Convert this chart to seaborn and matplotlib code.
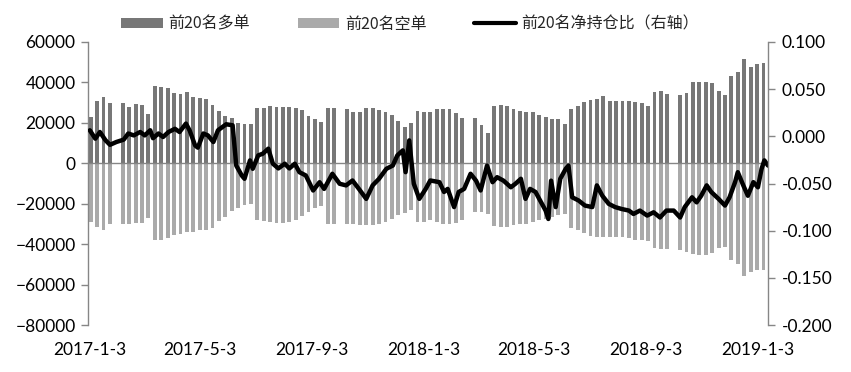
import numpy as np
import pandas as pd
import matplotlib
matplotlib.use("Agg")
import matplotlib.pyplot as plt
from matplotlib.patches import Patch
from matplotlib.lines import Line2D
from matplotlib.ticker import FormatStrFormatter
import seaborn as sns

sns.set_style("white")
plt.rcParams["font.family"] = ["Lato", "Noto Sans CJK SC", "DejaVu Sans"]

# ---------------- data ----------------
base_date = "2017-01-03"
# weekly bars: Mondays of each trading week (None = holiday week)
week_start = pd.date_range("2017-01-02", "2019-01-07", freq="W-MON")

long_top20 = [
    23000, 31000, 33000, 30000, None, 30000, 28000, 29500, 29000, 24500,
    38000, 37500, 37000, 35000, 34500, 35500, 33000, 32500, 32000, 29000,
    26000, 23500, 22500, 20000, 19300, 19300, 27500, 27500, 28500, 28000,
    28000, 28000, 27500, 26500, 23500, 22000, 20500, 27500, 27500, None,
    27000, 25500, 25500, 27500, 27500, 26500, 25500, 24000, 21000, 18000,
    20000, 26000, 25500, 25500, 27000, 27000, 27000, 25000, 22500, None,
    22500, 19000, 15000, 28500, 29000, 28500, 27000, 26000, 25500, 25500,
    24000, 23000, 22000, 22000, 19500, 27000, 28500, 30500, 31500, 32000,
    33500, 31000, 31000, 31000, 31000, 30500, 30000, 28500, 35500, 36000,
    34500, None, 34000, 35000, 40000, 40000, 40000, 39500, 36000, 34000,
    43000, 45000, 51500, 47500, 49000, 49500,
]

short_top20 = [
    -29000, -31500, -32800, -30000, None, -30000, -30000, -29600, -29500, -27000,
    -38000, -37800, -37000, -35600, -35000, -34000, -34000, -33000, -32800, -32000,
    -28500, -26500, -23500, -22000, -20500, -20000, -28000, -28500, -29000, -29400,
    -29400, -29000, -28000, -26000, -24000, -22000, -21000, -30000, -30000, None,
    -30000, -30000, -30500, -30700, -30700, -30000, -29000, -27500, -25500, -24500,
    -23000, -29000, -29000, -28200, -29000, -29900, -29900, -29500, -28000, None,
    -24100, -24000, -25000, -31000, -31500, -31500, -30500, -29900, -29900, -29000,
    -28200, -27500, -26500, -25700, -25000, -32000, -32800, -34500, -36000, -36500,
    -36500, -36500, -36500, -36500, -37000, -38000, -38100, -38500, -42000, -42200,
    -42200, None, -43000, -43900, -45000, -45500, -45500, -44500, -42000, -41400,
    -48000, -50000, -56000, -54000, -53000, -53000,
]

# net position ratio (right axis): days after 2017-01-03 and value
ratio_day = [
    0, 6, 11, 17, 22, 29, 37, 42, 48, 55,
    60, 66, 69, 75, 80, 86, 93, 98, 105, 109,
    115, 118, 124, 129, 135, 140, 149, 156, 160, 166,
    169, 175, 178, 184, 189, 195, 200, 206, 213, 218,
    224, 229, 236, 244, 251, 256, 265, 273, 280, 287,
    294, 302, 309, 316, 324, 331, 336, 342, 345, 349,
    354, 360, 367, 372, 382, 387, 391, 398, 403, 409,
    416, 422, 427, 434, 440, 445, 452, 460, 465, 471,
    476, 481, 487, 492, 498, 501, 504, 509, 514, 520,
    523, 527, 534, 541, 549, 554, 560, 567, 574, 581,
    589, 594, 601, 609, 616, 623, 630, 638, 645, 650,
    658, 663, 668, 674, 679, 687, 694, 699, 705, 708,
    714, 719, 725, 730, 734, 737, 741,
]
net_ratio = [
    0.0064, -0.0025, 0.0046, -0.004, -0.009, -0.006, -0.0035, 0.003, 0.001, 0.0046,
    0.001, 0.0064, -0.002, 0.003, -0.0007, 0.0046, 0.008, 0.0046, 0.0135, 0.0064,
    -0.0096, -0.012, 0.003, 0.001, -0.006, 0.0064, 0.0128, 0.0117, -0.031, -0.0415,
    -0.045, -0.0255, -0.0344, -0.0202, -0.0184, -0.0131, -0.029, -0.034, -0.029, -0.034,
    -0.029, -0.038, -0.0415, -0.0574, -0.0486, -0.0557, -0.0397, -0.0503, -0.052, -0.0468,
    -0.0557, -0.0663, -0.052, -0.045, -0.0344, -0.031, -0.0202, -0.0149, -0.038, -0.0043,
    -0.0503, -0.0663, -0.0557, -0.0468, -0.0486, -0.059, -0.0557, -0.075, -0.059, -0.0557,
    -0.0397, -0.047, -0.0574, -0.031, -0.0486, -0.0433, -0.047, -0.054, -0.0503, -0.045,
    -0.0663, -0.0557, -0.059, -0.068, -0.0787, -0.0876, -0.047, -0.075, -0.045, -0.0344,
    -0.031, -0.0646, -0.068, -0.0734, -0.075, -0.052, -0.063, -0.0716, -0.075, -0.077,
    -0.0787, -0.0823, -0.0787, -0.084, -0.0805, -0.086, -0.0787, -0.0787, -0.086, -0.075,
    -0.0646, -0.07, -0.063, -0.052, -0.059, -0.0663, -0.0734, -0.0646, -0.0486, -0.038,
    -0.052, -0.063, -0.0486, -0.054, -0.0344, -0.0255, -0.031,
]

x_tick_labels = ["2017-1-3", "2017-5-3", "2017-9-3", "2018-1-3",
                 "2018-5-3", "2018-9-3", "2019-1-3"]
left_ticks = [60000, 40000, 20000, 0, -20000, -40000, -60000, -80000]
right_ticks = [0.100, 0.050, 0.000, -0.050, -0.100, -0.150, -0.200]

label_long = "前20名多单"
label_short = "前20名空单"
label_ratio = "前20名净持仓比（右轴）"

c_long = "#777777"
c_short = "#aaaaaa"
axis_grey = "#868686"

# ---------------- build frame ----------------
base = pd.Timestamp(base_date)
bar_day = [(d - base).days + 2 for d in week_start]  # mid-week (Wednesday)
df = pd.concat([
    pd.DataFrame({"day": bar_day, "value": long_top20, "series": label_long}),
    pd.DataFrame({"day": bar_day, "value": short_top20, "series": label_short}),
]).dropna()
df["value"] = df["value"].astype(float)
df["day"] = df["day"].astype(float)

# ---------------- figure ----------------
fig = plt.figure(figsize=(8.51, 3.72), dpi=100)
ax = fig.add_axes([88 / 851, 1 - 325 / 372, (768 - 88) / 851, (325 - 42) / 372])

sns.barplot(data=df, x="day", y="value", hue="series", native_scale=True,
            dodge=False, palette={label_long: c_long, label_short: c_short},
            width=0.6, errorbar=None, linewidth=0, legend=False, ax=ax)

ax.axhline(0, color=axis_grey, lw=1.0, zorder=3)
ax.set_ylim(-80000, 60000)
ax.set_yticks(left_ticks)
ax.set_xlim(-2, 741)
tick_days = [(pd.Timestamp(s) - base).days for s in x_tick_labels]
ax.set_xticks(tick_days)
ax.set_xticklabels(x_tick_labels)
ax.tick_params(axis="x", length=0, pad=12, labelsize=12.5, colors="black")
ax.tick_params(axis="y", direction="out", length=5, width=1, color=axis_grey,
               labelsize=12.5, labelcolor="black", pad=4, left=True)
ax.set_xlabel("")
ax.set_ylabel("")
for s in ["top", "right", "bottom"]:
    ax.spines[s].set_visible(False)
ax.spines["left"].set_color(axis_grey)
ax.spines["left"].set_linewidth(1)

ax2 = ax.twinx()
sns.lineplot(x=ratio_day, y=net_ratio, ax=ax2, color="black", lw=3.2,
             sort=False, legend=False)
ax2.set_ylim(-0.2, 0.1)
ax2.set_yticks(right_ticks)
ax2.yaxis.set_major_formatter(FormatStrFormatter("%.3f"))
ax2.tick_params(axis="y", direction="out", length=5, width=1, color=axis_grey,
                labelsize=12.5, labelcolor="black", pad=5, right=True)
for s in ["top", "left", "bottom"]:
    ax2.spines[s].set_visible(False)
ax2.spines["right"].set_color(axis_grey)
ax2.spines["right"].set_linewidth(1)
ax2.set_xlim(-2, 741)

handles = [Patch(facecolor=c_long, edgecolor="none"),
           Patch(facecolor=c_short, edgecolor="none"),
           Line2D([0], [0], color="black", lw=3)]
fig.legend(handles, [label_long, label_short, label_ratio],
           loc="center", bbox_to_anchor=(0.482, 1 - 24 / 372), ncol=3,
           frameon=False, handlelength=2.6, handleheight=0.65,
           handletextpad=0.35, columnspacing=3.0,
           prop={"family": ["Noto Sans CJK SC", "DejaVu Sans"], "size": 11.5})

fig.savefig("out.png", dpi=100)
